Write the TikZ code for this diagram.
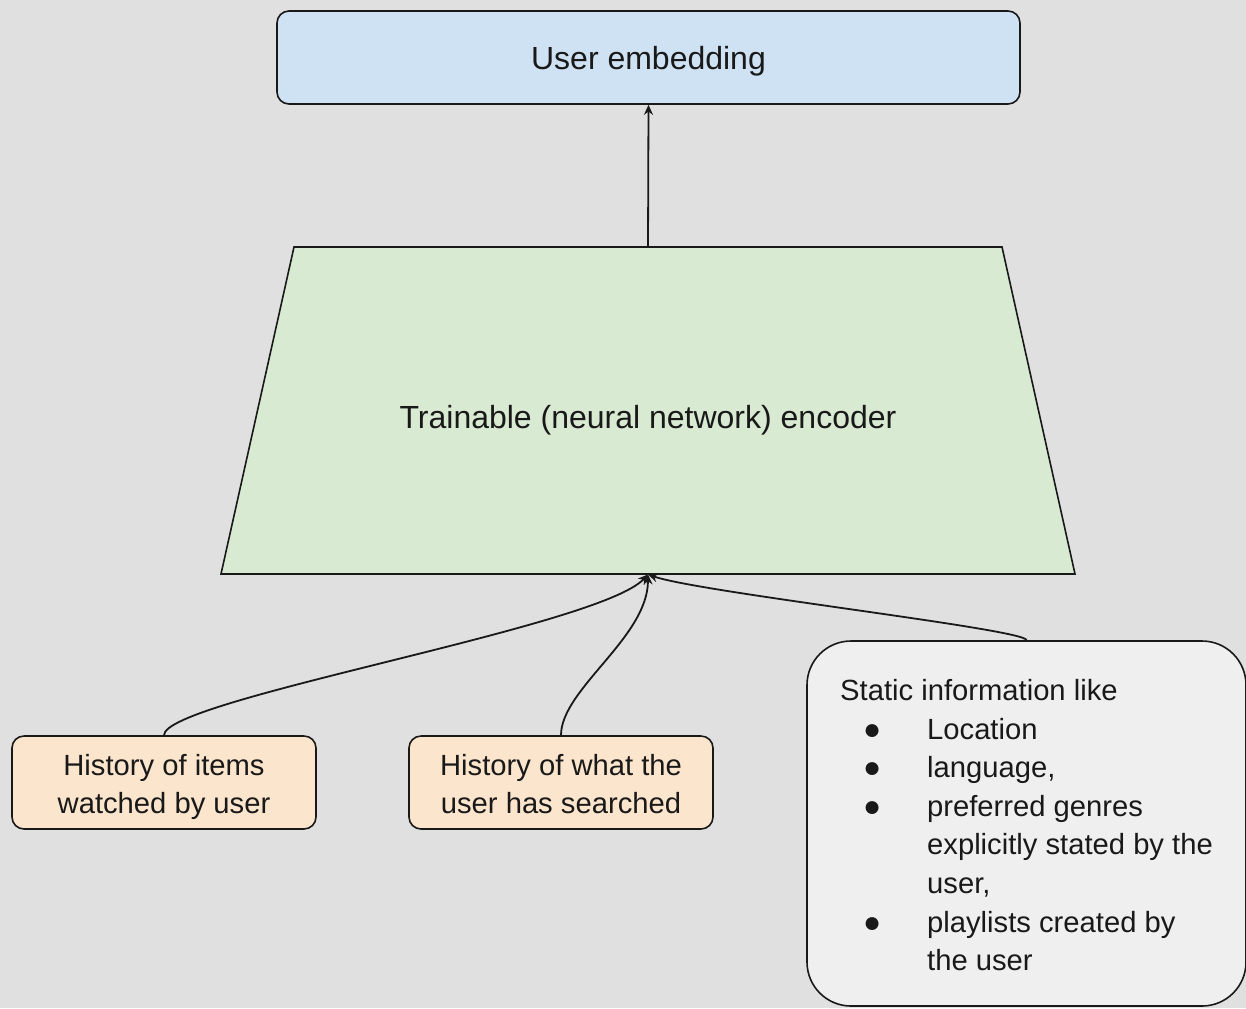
\documentclass[tikz,border=0pt]{standalone}
\usepackage{fontspec}
\setmainfont{Liberation Sans}
\usetikzlibrary{arrows.meta}
\newcommand{\figurescale}{0.5pt}
\definecolor{paper}{RGB}{224,224,224}
\definecolor{embblue}{RGB}{207,226,243}
\definecolor{encgreen}{RGB}{217,234,211}
\definecolor{historange}{RGB}{252,229,205}
\definecolor{infogrey}{RGB}{239,239,239}
\definecolor{ink}{RGB}{25,25,25}
\newcommand{\infoitem}{\makebox[43.5pt][l]{\hspace*{11.5pt}{\fontsize{15}{15}\selectfont ●}}}
\newcommand{\infoindent}{\hspace*{43.5pt}}
\newcommand{\twolines}[2]{\rule{0pt}{16pt}#1\\#2\rule[-3.9pt]{0pt}{0pt}}

\begin{document}
\begin{tikzpicture}[x=\figurescale,y=-\figurescale,
	box/.style={draw=ink, line width=0.8pt, rounded corners=6pt, text=ink, align=center, inner sep=0pt,
		font=\fontsize{14.6}{19.3}\selectfont},
	feed/.style={draw=ink, line width=0.9pt, -{Stealth[length=5pt,width=4.5pt]}}]
	\fill[paper] (0,0) rectangle (1246,1008);
	\useasboundingbox (0,0) rectangle (1246,1008);

	\node[box, fill=embblue, minimum width=371.5pt, minimum height=46.5pt, text height=12.3pt, text depth=0pt,
		font=\fontsize{16}{19}\selectfont] (Emb) at (648.5,57.5) {User embedding};

	% encoder trapezoid
	\coordinate (EncTL) at (294,247);
	\coordinate (EncTR) at (1002,247);
	\coordinate (EncBR) at (1075,574);
	\coordinate (EncBL) at (221,574);
	\filldraw[draw=ink, fill=encgreen, line width=0.8pt] (EncTL) -- (EncTR) -- (EncBR) -- (EncBL) -- cycle;
	\node[text=ink, minimum height=163.5pt, inner sep=0pt, text height=17.5pt, text depth=0pt,
		font=\fontsize{16}{19}\selectfont] (Enc) at (648,410.5) {Trainable (neural network) encoder};

	\node[box, fill=historange, minimum width=152pt, minimum height=46.5pt] (Watched) at (164,782.5)
		{\twolines{History of items}{watched by user}};
	\node[box, fill=historange, minimum width=152pt, minimum height=46.5pt] (Searched) at (561,782.5)
		{\twolines{History of what the}{user has searched}};
	\node[box, rounded corners=22pt, fill=infogrey, minimum width=219.5pt, minimum height=182.5pt,
		align=left] (Static) at (1026.5,823.5)
		{\rule{0pt}{16pt}Static information like\\
		\infoitem Location\\
		\infoitem language,\\
		\infoitem preferred genres\\
		\infoindent explicitly stated by the\\
		\infoindent user,\\
		\infoitem playlists created by\\
		\infoindent the user\rule[-3.9pt]{0pt}{0pt}};

	\draw[feed] (Watched.north) .. controls +(0,-36) and +(-49,53) .. (Enc.south);
	\draw[feed] (Searched.north) .. controls +(0,-46) and +(0,63) .. (Enc.south);
	\draw[feed] (Static.north) .. controls +(0,-11) and +(51,18) .. (Enc.south);
	\draw[feed] (Enc.north) -- (Emb.south);
\end{tikzpicture}
\end{document}
